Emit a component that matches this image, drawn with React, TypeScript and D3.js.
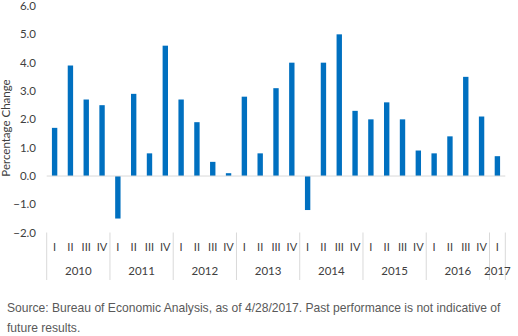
import * as d3 from "d3";

// Real GDP, quarter-over-quarter annualized % change
const years = ["2010", "2011", "2012", "2013", "2014", "2015", "2016", "2017"];
const quarterNames = ["I", "II", "III", "IV"];
const quarterCounts = [4, 4, 4, 4, 4, 4, 4, 1];
const gdpChange = [
  1.7, 3.9, 2.7, 2.5,
  -1.5, 2.9, 0.8, 4.6,
  2.7, 1.9, 0.5, 0.1,
  2.8, 0.8, 3.1, 4.0,
  -1.2, 4.0, 5.0, 2.3,
  2.0, 2.6, 2.0, 0.9,
  0.8, 1.4, 3.5, 2.1,
  0.7,
];
const yTicks = [6, 5, 4, 3, 2, 1, 0, -1, -2];

const width = 518;
const height = 336;
const plotLeft = 46.7;
const plotRight = 505.3;

export default function App() {
  const quarters = years.flatMap((yr, i) =>
    quarterNames.slice(0, quarterCounts[i]).map((q) => ({ key: `${yr}-${q}`, year: yr, q }))
  );

  const x = d3
    .scaleBand()
    .domain(quarters.map((d) => d.key))
    .range([plotLeft, plotRight])
    .paddingInner(0.66)
    .paddingOuter(0.33);
  const step = x.step();
  const gap = (step - x.bandwidth()) / 2;

  const y = d3.scaleLinear().domain([-2, 6]).range([232.7, 6]);

  const font = "Lato, 'Open Sans', sans-serif";
  const textColor = "#404040";

  // year group boundaries
  const yearStarts: { year: string; x0: number; x1: number }[] = [];
  years.forEach((yr) => {
    const qs = quarters.filter((d) => d.year === yr);
    const x0 = (x(qs[0].key) as number) - gap;
    const x1 = (x(qs[qs.length - 1].key) as number) + x.bandwidth() + gap;
    yearStarts.push({ year: yr, x0, x1 });
  });

  return (
    <div style={{ position: "absolute", left: 0, top: 0 }}>
      <svg width={width} height={height} style={{ display: "block", background: "#fff" }}>
        {/* y tick labels */}
        {yTicks.map((t) => (
          <text
            key={t}
            x={36}
            y={y(t)}
            dy="0.35em"
            textAnchor="end"
            fontFamily={font}
            fontSize={11.5}
            fill={textColor}
          >
            {d3.format(".1f")(t)}
          </text>
        ))}

        <text
          transform={`translate(10,${128}) rotate(-90)`}
          textAnchor="middle"
          fontFamily={font}
          fontSize={11.5}
          fill={textColor}
        >
          Percentage Change
        </text>

        {/* bars */}
        {quarters.map((d, i) => {
          const v = gdpChange[i];
          return (
            <rect
              key={d.key}
              x={x(d.key)}
              y={Math.min(y(v), y(0))}
              width={x.bandwidth()}
              height={Math.abs(y(v) - y(0))}
              fill="#0070C0"
            />
          );
        })}

        {/* zero line */}
        <line x1={plotLeft} x2={plotRight} y1={y(0)} y2={y(0)} stroke="#d9d9d9" strokeWidth={1} />

        {/* category axis: year separators */}
        {yearStarts.map((ys) => (
          <line key={ys.year} x1={ys.x0} x2={ys.x0} y1={232.5} y2={280} stroke="#d9d9d9" strokeWidth={1} />
        ))}
        <line x1={plotRight} x2={plotRight} y1={232.5} y2={280} stroke="#d9d9d9" strokeWidth={1} />

        {/* quarter labels */}
        {quarters.map((d) => (
          <text
            key={d.key}
            x={(x(d.key) as number) + x.bandwidth() / 2}
            y={247}
            dy="0.35em"
            textAnchor="middle"
            fontFamily={font}
            fontSize={11}
            fill={textColor}
          >
            {d.q}
          </text>
        ))}

        {/* year labels */}
        {yearStarts.map((ys) => (
          <text
            key={ys.year}
            x={(ys.x0 + ys.x1) / 2}
            y={271}
            dy="0.35em"
            textAnchor="middle"
            fontFamily={font}
            fontSize={11.5}
            fill={textColor}
          >
            {ys.year}
          </text>
        ))}

        <text x={7} y={312} fontFamily="'Liberation Sans', Arial, sans-serif" fontSize={12.1} fill="#595959">
          Source: Bureau of Economic Analysis, as of 4/28/2017. Past performance is not indicative of
        </text>
        <text x={7} y={332} fontFamily="'Liberation Sans', Arial, sans-serif" fontSize={12.1} fill="#595959">
          future results.
        </text>
      </svg>
    </div>
  );
}
